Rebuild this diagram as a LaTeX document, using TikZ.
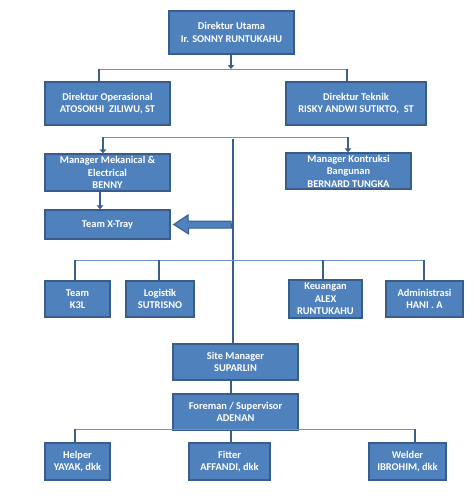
\documentclass[tikz,border=0pt]{standalone}
\usepackage{fontspec}
\setmainfont{Carlito}
\usetikzlibrary{arrows.meta,calc}
\definecolor{boxfill}{HTML}{4F81BD}
\definecolor{boxdraw}{HTML}{385D8A}
\definecolor{hcol}{HTML}{6B93C9}
\definecolor{vcol}{HTML}{3A5F8F}
\tikzset{
  box/.style={draw=boxdraw, line width=1.3pt, fill=boxfill, text=white,
    font=\fontsize{10.4}{12.6}\selectfont\bfseries, align=center, inner sep=0pt},
  hline/.style={draw=hcol, line width=1pt},
  vline/.style={draw=vcol, line width=2.4pt},
  varrow/.style={draw=vcol, line width=2.4pt, -{Triangle[width=6.5pt,length=4pt]}},
  blockarrow/.style={draw=boxdraw, line width=1pt, fill=boxfill},
}
\begin{document}
\begin{tikzpicture}[x=1pt,y=-1pt]
\useasboundingbox (0,0) rectangle (474,501);
% boxes
\node[box, minimum width=125pt, minimum height=43pt] (Top) at (231.5,32.5) {Direktur Utama\\Ir. SONNY RUNTUKAHU};
\node[box, minimum width=125pt, minimum height=43pt] (DirOp) at (107.5,103.5) {Direktur Operasional\\ATOSOKHI\ \ ZILIWU, ST};
\node[box, minimum width=140pt, minimum height=43pt] (DirTek) at (356,103.5) {Direktur Teknik\\RISKY ANDWI SUTIKTO,\ \ ST};
\node[box, minimum width=125pt, minimum height=37pt] (MgrMek) at (107.5,172.5) {Manager Mekanical \&\\Electrical\\BENNY};
\node[box, minimum width=125pt, minimum height=36pt] (MgrKon) at (348.5,171) {Manager Kontruksi\\Bangunan\\BERNARD TUNGKA};
\node[box, minimum width=125pt, minimum height=29pt] (XTray) at (107.5,224.5) {Team X-Tray};
\node[box, minimum width=65pt, minimum height=36pt] (K3L) at (77.5,299) {Team\\K3L};
\node[box, minimum width=68pt, minimum height=36pt] (Log) at (160,299) {Logistik\\SUTRISNO};
\node[box, minimum width=73pt, minimum height=38pt] (Keu) at (325.5,299) {Keuangan\\ALEX\\RUNTUKAHU};
\node[box, minimum width=77pt, minimum height=36pt] (Adm) at (424.5,299) {Administrasi\\HANI . A};
\node[box, minimum width=125pt, minimum height=36pt] (Site) at (235.5,362) {Site Manager\\SUPARLIN};
\node[box, minimum width=125pt, minimum height=36pt] (Fore) at (235.5,412) {Foreman / Supervisor\\ADENAN};
\node[box, minimum width=65pt, minimum height=37pt] (Helper) at (77.5,461.5) {Helper\\YAYAK, dkk};
\node[box, minimum width=81pt, minimum height=37pt] (Fitter) at (229.5,461.5) {Fitter\\AFFANDI, dkk};
\node[box, minimum width=77pt, minimum height=37pt] (Welder) at (407.5,461.5) {Welder\\IBROHIM, dkk};
% level 1
\coordinate (h1L) at (99,69);
\coordinate (h1R) at (347,69);
\coordinate (h1M) at (231,69);
\draw[hline] (h1L) -- (h1R);
\draw[varrow] (Top.south -| h1M) -- (h1M);
\draw[vline] (h1L) -- (h1L |- DirOp.north);
\draw[vline] (h1R) -- (h1R |- DirTek.north);
% level 2
\coordinate (h2L) at (103,137);
\coordinate (h2R) at (348,137);
\draw[hline] (h2L) -- (h2R);
\draw[varrow] (h2L) -- (h2L |- MgrMek.north);
\draw[varrow] (h2R) -- (h2R |- MgrKon.north);
\coordinate (mk) at (100,0);
\draw[varrow] (MgrMek.south -| mk) -- (XTray.north -| mk);
% central spine
\coordinate (cTop) at (233,139);
\draw[vline] (cTop) -- (cTop |- Site.north);
% block arrow to Team X-Tray
\coordinate (ba) at (231,224.5);
\draw[blockarrow] (ba) ++(0,-3.5) -- ++(-43,0) -- ++(0,-6) -- ($(XTray.east)+(3,0)$) -- ++(15,9.5) -- ++(0,-6) -- ++(43,0) -- cycle;
% level 3
\coordinate (h3L) at (75,260);
\coordinate (h3R) at (424,260);
\draw[hline] (h3L) -- (h3R);
\foreach \xx/\nn in {75/K3L,159/Log,323/Keu,424/Adm}{
  \draw[vline] (\xx,260) -- (\xx,0 |- \nn.north);
}
% site to foreman
\coordinate (sf) at (231,0);
\draw[vline] (Site.south -| sf) -- (Fore.north -| sf);
% level 4
\coordinate (h4L) at (75,429);
\coordinate (h4R) at (415,429);
\draw[hline] (h4L) -- (h4R);
\draw[vline] (h4L) -- (h4L |- Helper.north);
\draw[vline] (Fore.south -| sf) -- (Fitter.north -| sf);
\draw[vline] (h4R) -- (h4R |- Welder.north);
\end{tikzpicture}
\end{document}
